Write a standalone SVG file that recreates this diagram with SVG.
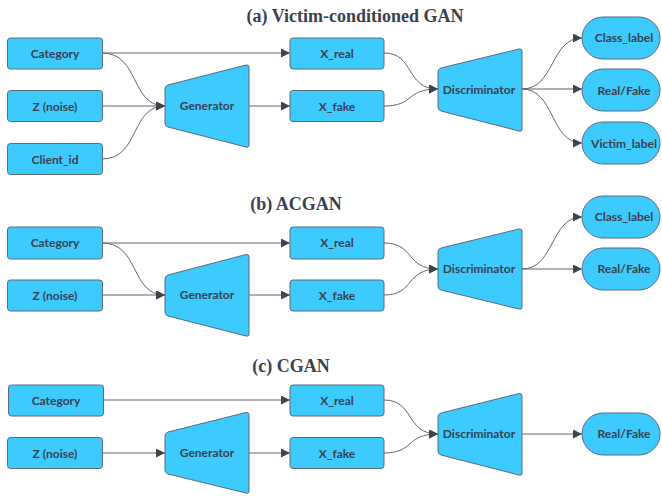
<svg xmlns="http://www.w3.org/2000/svg" width="662" height="496" viewBox="0 0 662 496">
<defs>
<marker id="ah" viewBox="0 0 10 10" refX="10" refY="5" markerWidth="9" markerHeight="9" markerUnits="userSpaceOnUse" orient="auto">
<path d="M0,0 L10,5 L0,10 z" fill="#3d4450"/>
</marker>
<style>
.box{fill:#3dcbff;stroke:#5b6b7b;stroke-width:1}
.lbl{font-family:Lato,"Liberation Sans",sans-serif;font-weight:bold;font-size:12px;fill:#3a4150;text-anchor:middle;dominant-baseline:central}
.ttl{font-family:"Liberation Serif","DejaVu Serif",serif;font-weight:bold;font-size:18px;fill:#3a4150;text-anchor:middle}
.c{fill:none;stroke:#5f6670;stroke-width:1;marker-end:url(#ah)}
</style>
</defs>
<rect width="662" height="496" fill="#ffffff"/>

<text class="ttl" x="355" y="22">(a) Victim-conditioned GAN</text>
<text class="ttl" x="296" y="210">(b) ACGAN</text>
<text class="ttl" x="291" y="372">(c) CGAN</text>

<g id="connectors">
<!-- a -->
<path class="c" d="M102,53 L290,53"/>
<path class="c" d="M102,53 C140,53 130,106 165,106"/>
<path class="c" d="M102,106 L165,106"/>
<path class="c" d="M102,159 C140,159 130,106 165,106"/>
<path class="c" d="M249,106 L290,106"/>
<path class="c" d="M384,53 C415,53 405,89 438,89"/>
<path class="c" d="M384,106 C415,106 405,89 438,89"/>
<path class="c" d="M522,89 C555,89 550,38 582,38"/>
<path class="c" d="M522,89 L582,89"/>
<path class="c" d="M522,89 C555,89 550,143 582,143"/>
<!-- b -->
<path class="c" d="M102,243 L290,243"/>
<path class="c" d="M102,243 C140,243 130,295 165,295"/>
<path class="c" d="M102,295 L165,295"/>
<path class="c" d="M249,295 L290,295"/>
<path class="c" d="M384,243 C415,243 405,269 438,269"/>
<path class="c" d="M384,295 C415,295 405,269 438,269"/>
<path class="c" d="M522,269 C555,269 550,217 582,217"/>
<path class="c" d="M522,269 L582,269"/>
<!-- c -->
<path class="c" d="M103,400 L290,400"/>
<path class="c" d="M102,453 L165,453"/>
<path class="c" d="M249,453 L290,453"/>
<path class="c" d="M384,400 C415,400 405,434 438,434"/>
<path class="c" d="M384,453 C415,453 405,434 438,434"/>
<path class="c" d="M522,434 L582,434"/>
</g>

<!-- section a -->
<g id="a-category"><rect class="box" x="7.5" y="38" width="95" height="31" rx="3"/><text class="lbl" x="55" y="53.5">Category</text></g>
<g id="a-z"><rect class="box" x="7.5" y="90.5" width="95" height="31" rx="3"/><text class="lbl" x="55" y="106">Z (noise)</text></g>
<g id="a-client"><rect class="box" x="7.5" y="143.5" width="95" height="31" rx="3"/><text class="lbl" x="55" y="159">Client_id</text></g>
<g id="a-generator"><path class="box" d="M165,89 Q165,86 168,85 L246,65 Q249,64.5 249,67 L249,145 Q249,148 246,147 L168,127 Q165,126 165,123 Z"/><text class="lbl" x="207" y="105">Generator</text></g>
<g id="a-xreal"><rect class="box" x="290" y="38" width="94" height="31" rx="3"/><text class="lbl" x="337" y="53.5">X_real</text></g>
<g id="a-xfake"><rect class="box" x="290" y="90.5" width="94" height="31" rx="3"/><text class="lbl" x="337" y="106">X_fake</text></g>
<g id="a-disc"><path class="box" d="M438,72 Q438,69 441,68 L519,49 Q522,48.5 522,51 L522,129 Q522,132 519,131 L441,111 Q438,110 438,107 Z"/><text class="lbl" x="479" y="89">Discriminator</text></g>
<g id="a-class"><rect class="box" x="582" y="17" width="78" height="42" rx="21"/><text class="lbl" x="624" y="37">Class_label</text></g>
<g id="a-rf"><rect class="box" x="582" y="69" width="78" height="42" rx="21"/><text class="lbl" x="624" y="90">Real/Fake</text></g>
<g id="a-victim"><rect class="box" x="582" y="122" width="78" height="42" rx="21"/><text class="lbl" x="624" y="143">Victim_label</text></g>

<!-- section b -->
<g id="b-category"><rect class="box" x="7.5" y="227" width="95" height="32" rx="3"/><text class="lbl" x="55" y="242">Category</text></g>
<g id="b-z"><rect class="box" x="7.5" y="280" width="95" height="31" rx="3"/><text class="lbl" x="55" y="295">Z (noise)</text></g>
<g id="b-generator"><path class="box" d="M165,279 Q165,276 168,275 L246,254.5 Q249,254 249,257 L249,334 Q249,337 246,336 L168,316 Q165,315 165,312 Z"/><text class="lbl" x="207" y="294">Generator</text></g>
<g id="b-xreal"><rect class="box" x="290" y="227" width="94" height="32" rx="3"/><text class="lbl" x="337" y="242">X_real</text></g>
<g id="b-xfake"><rect class="box" x="290" y="280" width="94" height="31" rx="3"/><text class="lbl" x="337" y="295">X_fake</text></g>
<g id="b-disc"><path class="box" d="M438,252 Q438,249 441,248 L519,229 Q522,228.5 522,231 L522,307 Q522,310 519,309 L441,290 Q438,289 438,286 Z"/><text class="lbl" x="479" y="268">Discriminator</text></g>
<g id="b-class"><rect class="box" x="582" y="196" width="78" height="42" rx="21"/><text class="lbl" x="624" y="216">Class_label</text></g>
<g id="b-rf"><rect class="box" x="582" y="248" width="78" height="42" rx="21"/><text class="lbl" x="624" y="268">Real/Fake</text></g>

<!-- section c -->
<g id="c-category"><rect class="box" x="8.5" y="385" width="95" height="31" rx="3"/><text class="lbl" x="56" y="400">Category</text></g>
<g id="c-z"><rect class="box" x="7.5" y="437.5" width="95" height="31" rx="3"/><text class="lbl" x="55" y="453">Z (noise)</text></g>
<g id="c-generator"><path class="box" d="M165,436 Q165,433 168,432 L246,412.5 Q249,412 249,415 L249,491 Q249,494 246,493 L168,474 Q165,473 165,470 Z"/><text class="lbl" x="207" y="452">Generator</text></g>
<g id="c-xreal"><rect class="box" x="290" y="385" width="94" height="31" rx="3"/><text class="lbl" x="337" y="400">X_real</text></g>
<g id="c-xfake"><rect class="box" x="290" y="437.5" width="94" height="31" rx="3"/><text class="lbl" x="337" y="453">X_fake</text></g>
<g id="c-disc"><path class="box" d="M438,417 Q438,414 441,413 L519,393.5 Q522,393 522,396 L522,473 Q522,476 519,475 L441,455 Q438,454 438,451 Z"/><text class="lbl" x="479" y="433">Discriminator</text></g>
<g id="c-rf"><rect class="box" x="582" y="413" width="78" height="42" rx="21"/><text class="lbl" x="624" y="433">Real/Fake</text></g>
</svg>
